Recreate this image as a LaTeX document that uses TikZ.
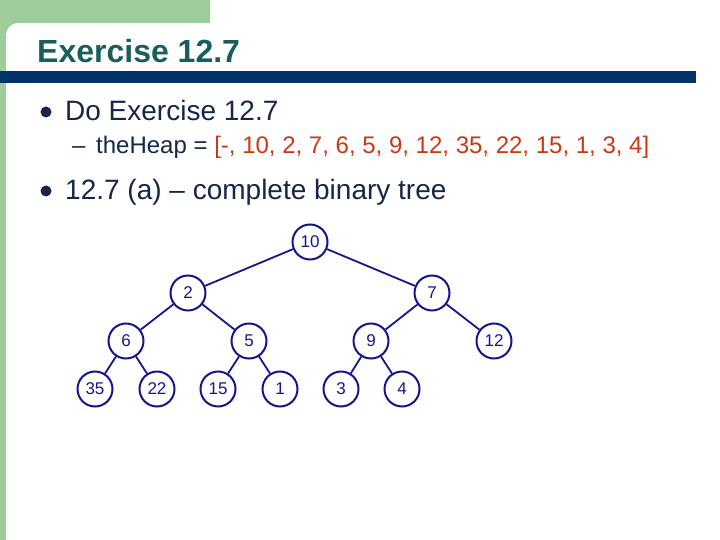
\documentclass[tikz,border=0pt]{standalone}
\usepackage{fontspec}
\setmainfont{Liberation Sans}
\usetikzlibrary{positioning}
\definecolor{SlideGreen}{RGB}{158,204,154}
\definecolor{TitleTeal}{RGB}{24,94,94}
\definecolor{BarBlue}{RGB}{0,51,102}
\definecolor{BodyInk}{RGB}{22,38,72}
\definecolor{HeapRed}{RGB}{204,56,20}
\definecolor{TreeBlue}{RGB}{22,22,140}
\tikzset{
  ttl/.style={anchor=base west,inner sep=0pt,text=TitleTeal,font=\fontsize{32}{38}\selectfont\bfseries},
  lvlA/.style={anchor=base west,inner sep=0pt,text=BodyInk,font=\fontsize{28}{34}\selectfont},
  lvlB/.style={anchor=base west,inner sep=0pt,text=BodyInk,font=\fontsize{24}{29}\selectfont},
  dot/.style={fill=BodyInk},
  hnode/.style={circle,draw=TreeBlue,line width=2pt,minimum size=35pt,inner sep=0pt,text=TreeBlue,font=\fontsize{17}{17}\selectfont},
  hedge/.style={draw=TreeBlue,line width=1.8pt}
}
\begin{document}
\begin{tikzpicture}[x=1pt,y=-1pt]
\useasboundingbox (0,0) rectangle (720,540);
% slide frame
\fill[SlideGreen] (0,0) -- (210,0) -- (210,23) -- (18,23) arc[start angle=270, end angle=180, radius=12] -- (6,540) -- (0,540) -- cycle;
\fill[BarBlue] (0,71) rectangle (696,83);
\node[ttl] (title) at (37,63) {Exercise 12.7};
% bullets
\fill[dot] (46,112) circle[radius=5.5pt];
\node[lvlA] (b1) at (65,121) {Do Exercise 12.7};
\node[lvlB] (dash) at (72,154) {--};
\node[lvlB] (heap) at (96,154) {theHeap = \textcolor{HeapRed}{[-, 10, 2, 7, 6, 5, 9, 12, 35, 22, 15, 1, 3, 4]}};
\fill[dot] (46,191) circle[radius=5.5pt];
\node[lvlA] (b2) at (65,200) {12.7 (a) -- complete binary tree};
% the heap as a tree
\node[hnode] (n10) at (310,242) {10};
\node[hnode] (n2) at (188,293) {2};
\node[hnode] (n7) at (432,293) {7};
\node[hnode] (n6) at (126,341) {6};
\node[hnode] (n5) at (249,341) {5};
\node[hnode] (n9) at (371,341) {9};
\node[hnode] (n12) at (494,341) {12};
\node[hnode] (n35) at (95,389) {35};
\node[hnode] (n22) at (157,389) {22};
\node[hnode] (n15) at (218,389) {15};
\node[hnode] (n1) at (280,389) {1};
\node[hnode] (n3) at (341,389) {3};
\node[hnode] (n4) at (402,389) {4};
\draw[hedge] (n10) -- (n2);
\draw[hedge] (n10) -- (n7);
\draw[hedge] (n2) -- (n6);
\draw[hedge] (n2) -- (n5);
\draw[hedge] (n7) -- (n9);
\draw[hedge] (n7) -- (n12);
\draw[hedge] (n6) -- (n35);
\draw[hedge] (n6) -- (n22);
\draw[hedge] (n5) -- (n15);
\draw[hedge] (n5) -- (n1);
\draw[hedge] (n9) -- (n3);
\draw[hedge] (n9) -- (n4);
\end{tikzpicture}
\end{document}
